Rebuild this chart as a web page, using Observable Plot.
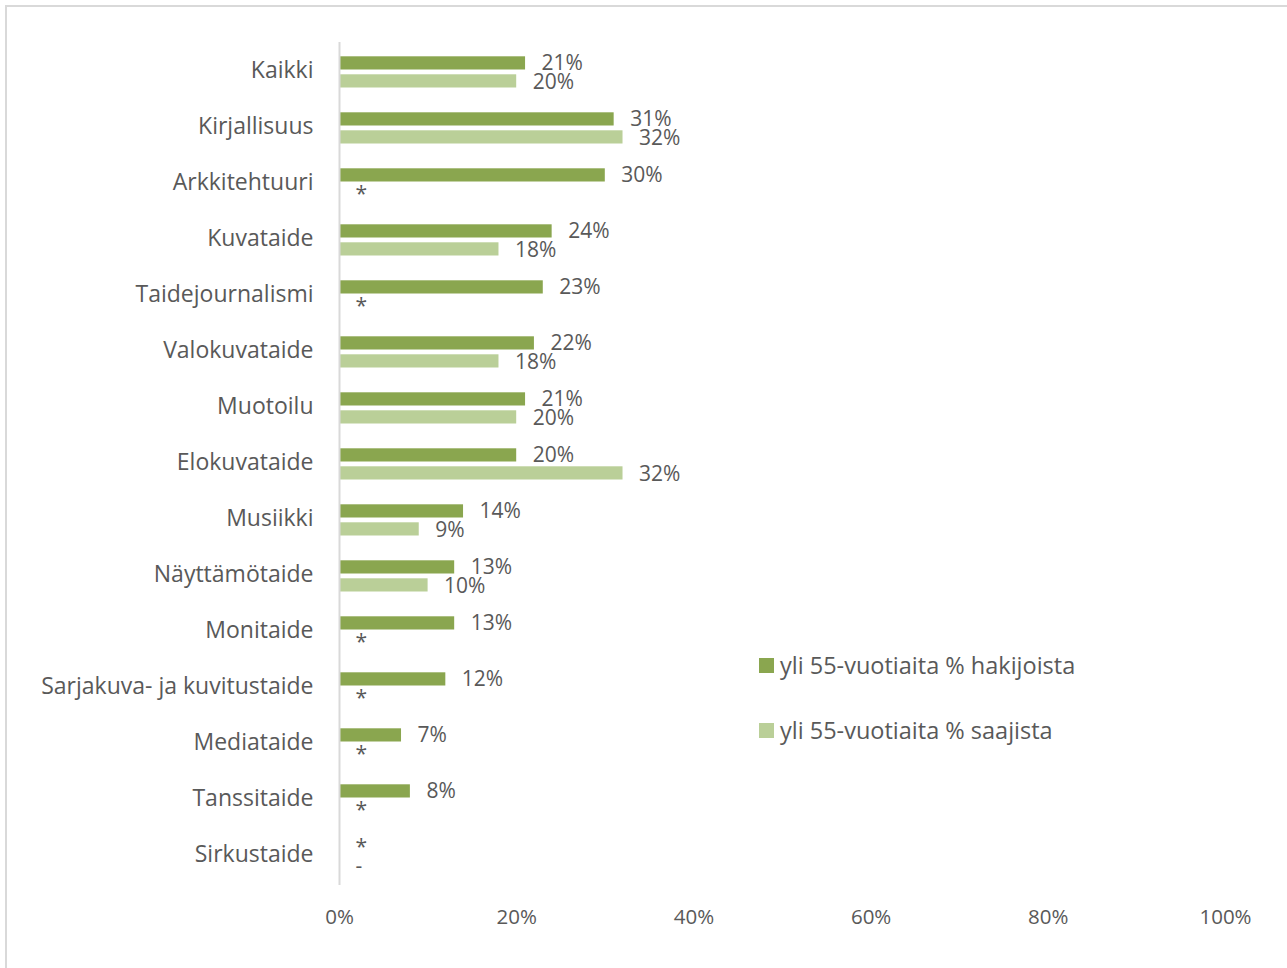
<!DOCTYPE html>
<html>
<head>
<meta charset="utf-8">
<script src="https://cdn.jsdelivr.net/npm/d3@7"></script>
<script src="https://cdn.jsdelivr.net/npm/@observablehq/plot@0.6"></script>
<style>
  html, body { margin: 0; padding: 0; background: #fff; overflow: hidden; }
  #wrap { position: relative; width: 1287px; height: 968px; font-family: "Open Sans", sans-serif; color: #595959; }
  #frame { position: absolute; left: 5px; top: 5px; width: 1300px; height: 1000px; border: 2px solid #d9d9d9; box-sizing: border-box; }
  #chart { position: absolute; left: 0; top: 0; }
  .leg { position: absolute; font-size: 23.5px; color: #595959; white-space: nowrap; line-height: 28px; }
  .sw { position: absolute; width: 15px; height: 15px; }
</style>
</head>
<body>
<div id="wrap">
  <div id="frame"></div>
  <div id="chart"></div>
</div>
<script>
const categories = ["Kaikki","Kirjallisuus","Arkkitehtuuri","Kuvataide","Taidejournalismi","Valokuvataide","Muotoilu","Elokuvataide","Musiikki","Näyttämötaide","Monitaide","Sarjakuva- ja kuvitustaide","Mediataide","Tanssitaide","Sirkustaide"];
const hakijat = [21,31,30,24,23,22,21,20,14,13,13,12,7,8,null];
const saajat  = [20,32,null,18,null,18,20,32,9,10,null,null,null,null,null];
const hakijatMissing = ["","","","","","","","","","","","","","","*"];
const saajatMissing  = ["","","*","","*","","","","","","*","*","*","*","-"];
const seriesNames = ["yli 55-vuotiaita % hakijoista","yli 55-vuotiaita % saajista"];
const seriesColors = ["#8aa64f","#bacf98"];
const xTicks = [0,20,40,60,80,100];

const rows = [];
categories.forEach((c, i) => {
  rows.push({cat: c, s: 0, value: hakijat[i], label: hakijat[i] == null ? hakijatMissing[i] : hakijat[i] + "%"});
  rows.push({cat: c, s: 1, value: saajat[i], label: saajat[i] == null ? saajatMissing[i] : saajat[i] + "%"});
});

const chart = Plot.plot({
  width: 1287,
  height: 968,
  marginLeft: 339,
  marginRight: 62,
  marginTop: 42,
  marginBottom: 83,
  style: {fontFamily: "'Open Sans', sans-serif", fontSize: "20.5px", color: "#595959", background: "transparent"},
  x: {domain: [0, 100], ticks: xTicks, tickFormat: d => d + "%", label: null, tickSize: 0, tickPadding: 24},
  y: {domain: categories, padding: 0, label: null, axis: null},
  marks: [
    Plot.barX(rows.filter(d => d.s === 0 && d.value != null), {x: "value", y: "cat", fill: seriesColors[0], insetTop: 12.3, insetBottom: 30.5}),
    Plot.barX(rows.filter(d => d.s === 1 && d.value != null), {x: "value", y: "cat", fill: seriesColors[1], insetTop: 30.3, insetBottom: 12.5}),
    Plot.ruleX([0], {stroke: "#d9d9d9", strokeWidth: 2}),
    Plot.axisY({tickSize: 0, tickPadding: 26, fontSize: 23, dy: -2, label: null}),
    Plot.text(rows.filter(d => d.s === 0), {x: d => d.value ?? 0, y: "cat", text: "label", textAnchor: "start", dx: 16, dy: -9, fill: "#595959", fontSize: 21}),
    Plot.text(rows.filter(d => d.s === 1), {x: d => d.value ?? 0, y: "cat", text: "label", textAnchor: "start", dx: 16, dy: 10, fill: "#595959", fontSize: 21})
  ]
});
document.getElementById("chart").appendChild(chart);

const wrap = document.getElementById("wrap");
seriesNames.forEach((name, i) => {
  const sw = document.createElement("div");
  sw.className = "sw";
  sw.style.left = "759px";
  sw.style.top = (658 + i * 65) + "px";
  sw.style.background = seriesColors[i];
  wrap.appendChild(sw);
  const t = document.createElement("div");
  t.className = "leg";
  t.style.left = "780px";
  t.style.top = (651 + i * 65) + "px";
  t.textContent = name;
  wrap.appendChild(t);
});
</script>
</body>
</html>
